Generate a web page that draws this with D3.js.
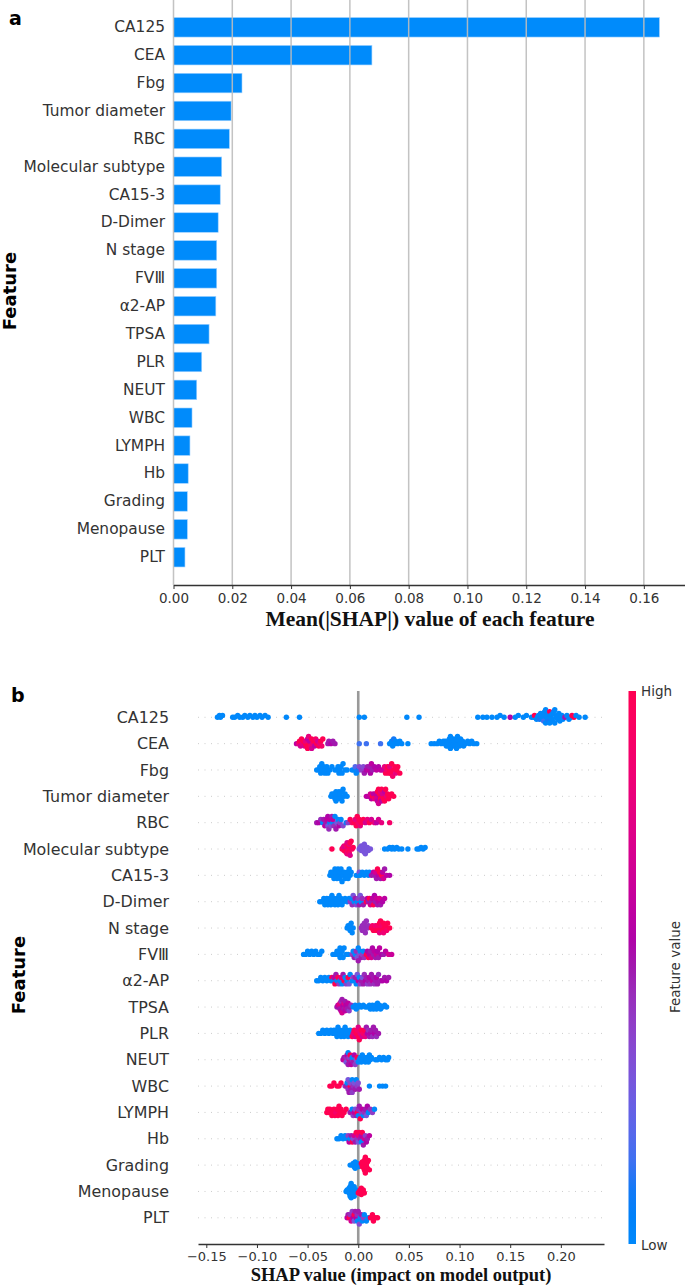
<!DOCTYPE html>
<html><head><meta charset="utf-8">
<script src="https://cdn.jsdelivr.net/npm/d3@7"></script>
<style>body{margin:0;background:#fff}svg{display:block}</style>
</head><body><svg id="c" width="685" height="1285"></svg>
<script>
const features = ["CA125","CEA","Fbg","Tumor diameter","RBC","Molecular subtype","CA15-3","D-Dimer","N stage","FVⅢ","α2-AP","TPSA","PLR","NEUT","WBC","LYMPH","Hb","Grading","Menopause","PLT"];
const meanShap = [0.1653,0.0675,0.0233,0.0196,0.0190,0.0164,0.0159,0.0152,0.0147,0.0147,0.0144,0.0121,0.0096,0.0079,0.0063,0.0056,0.0050,0.0047,0.0047,0.0039];
const ticksTop = [0,0.02,0.04,0.06,0.08,0.10,0.12,0.14,0.16];
const ticksBottom = [-0.15,-0.10,-0.05,0,0.05,0.10,0.15,0.20];

// each point: [SHAP value, normalized feature value (0 = low, 1 = high)]
const shapCA125 = [[-0.139,0],[-0.137,0],[-0.136,0],[-0.134,0],[-0.124,0],[-0.122,0],[-0.119,0],[-0.117,0],[-0.114,0],[-0.112,0],[-0.109,0],[-0.107,0],[-0.104,0],[-0.102,0],[-0.100,0],[-0.097,0],[-0.095,0],[-0.092,0],[-0.089,0],[-0.071,0],[-0.058,0],[0.001,0],[0.006,0],[0.048,0],[0.060,0],[0.118,0],[0.123,0],[0.127,0],[0.132,0],[0.137,0],[0.140,0],[0.144,0],[0.150,0.55],[0.155,0],[0.158,0],[0.163,0],[0.166,0],[0.171,0],[0.173,0],[0.174,1],[0.176,0],[0.177,0],[0.178,0],[0.179,0.1],[0.180,0],[0.181,0],[0.181,0],[0.182,0],[0.183,0],[0.183,0.15],[0.184,0],[0.185,0],[0.185,0],[0.186,0],[0.186,0],[0.187,0],[0.188,0],[0.188,0.1],[0.189,1],[0.189,0],[0.190,0],[0.190,0],[0.191,0],[0.192,0],[0.192,0],[0.193,0],[0.194,0],[0.194,0],[0.195,0],[0.196,0],[0.197,0],[0.198,0],[0.199,0],[0.200,0],[0.201,0],[0.202,0],[0.204,0.5],[0.206,0],[0.208,0],[0.210,0],[0.211,1],[0.213,1],[0.215,0],[0.218,0],[0.224,0]];
const shapCEA = [[-0.061,0.6],[-0.059,0.8],[-0.058,1],[-0.057,0.7],[-0.056,1],[-0.055,0.8],[-0.054,1],[-0.053,0.7],[-0.052,1],[-0.052,0.8],[-0.051,1],[-0.050,0.6],[-0.050,1],[-0.049,0.8],[-0.048,1],[-0.048,0.6],[-0.047,0.9],[-0.046,1],[-0.046,0.7],[-0.045,0.8],[-0.044,1],[-0.043,0.6],[-0.042,0.9],[-0.041,1],[-0.040,0.7],[-0.039,1],[-0.038,0.8],[-0.037,1],[-0.036,0.9],[-0.035,1],[-0.030,0.5],[-0.029,0.5],[-0.027,0.55],[-0.025,0.5],[-0.023,0.5],[0.001,0.15],[0.008,0.15],[0.022,0.15],[0.031,0],[0.032,0],[0.033,0],[0.034,0],[0.035,0.1],[0.036,0],[0.037,0],[0.039,0],[0.041,0],[0.043,0],[0.049,0],[0.072,0],[0.075,0],[0.078,0],[0.080,0],[0.082,0],[0.084,0],[0.085,0],[0.086,0],[0.087,0],[0.088,0],[0.088,0],[0.089,0],[0.090,0],[0.091,0],[0.091,0],[0.092,0],[0.093,0],[0.094,0],[0.094,0],[0.095,0],[0.095,0],[0.096,0],[0.097,0],[0.097,0],[0.098,0],[0.099,0],[0.100,0],[0.100,0],[0.101,0],[0.102,0],[0.103,0],[0.104,0],[0.106,0],[0.108,0],[0.110,0],[0.112,0],[0.114,0],[0.117,0]];
const shapFbg = [[-0.041,0],[-0.039,0],[-0.038,0],[-0.037,0],[-0.036,0],[-0.035,0],[-0.034,0],[-0.033,0],[-0.032,0],[-0.031,0],[-0.030,0],[-0.028,0],[-0.026,0],[-0.023,0],[-0.021,0],[-0.020,0],[-0.019,0],[-0.018,0],[-0.017,0],[-0.016,0],[-0.015,0],[-0.013,0],[-0.011,0],[-0.006,0],[-0.004,0],[-0.003,0.2],[-0.002,0],[0.000,0.1],[0.001,0.35],[0.003,0.4],[0.005,0.35],[0.006,0.5],[0.008,0.55],[0.009,0.5],[0.010,0.6],[0.011,0.5],[0.012,0.55],[0.013,0.6],[0.014,0.5],[0.016,0.55],[0.018,0.6],[0.020,0.55],[0.022,0.6],[0.024,0.65],[0.026,0.8],[0.027,1],[0.028,0.9],[0.029,1],[0.030,1],[0.031,1],[0.031,0.8],[0.032,1],[0.033,1],[0.034,0.9],[0.035,1],[0.036,1],[0.037,0.8],[0.038,1],[0.039,1],[0.041,1]];
const shapTumor = [[-0.027,0],[-0.026,0],[-0.025,0],[-0.024,0],[-0.023,0],[-0.022,0],[-0.022,0],[-0.021,0],[-0.020,0],[-0.020,0],[-0.019,0],[-0.018,0],[-0.018,0],[-0.017,0],[-0.016,0],[-0.016,0],[-0.015,0],[-0.014,0],[-0.013,0],[-0.011,0],[0.008,0.6],[0.010,0.6],[0.012,0.7],[0.013,0.6],[0.014,1],[0.015,0.6],[0.016,0.8],[0.017,1],[0.017,0.6],[0.018,0.7],[0.019,1],[0.019,0.6],[0.020,1],[0.020,0.7],[0.021,0.6],[0.021,1],[0.022,1],[0.022,0.8],[0.023,0.6],[0.023,1],[0.024,1],[0.024,0.7],[0.025,1],[0.026,0.6],[0.026,1],[0.027,1],[0.028,0.8],[0.029,1],[0.030,1],[0.031,1],[0.033,1],[0.035,1]];
const shapRBC = [[-0.041,0.5],[-0.039,0.55],[-0.037,0.45],[-0.035,0],[-0.034,0.5],[-0.033,0.6],[-0.032,0.5],[-0.031,0.6],[-0.030,0.3],[-0.030,0.55],[-0.029,0.45],[-0.028,0],[-0.028,0.6],[-0.027,0.35],[-0.026,0.5],[-0.025,0],[-0.025,0.6],[-0.024,0.45],[-0.023,0],[-0.022,0.5],[-0.021,0.3],[-0.020,0],[-0.019,0.55],[-0.018,0.4],[-0.017,0],[-0.015,0.35],[-0.012,0.1],[-0.010,0.4],[-0.008,1],[-0.006,0.9],[-0.004,1],[-0.003,0.8],[-0.002,1],[-0.001,1],[0.000,0.9],[0.001,1],[0.002,0.8],[0.003,1],[0.005,1],[0.007,0.7],[0.009,0.8],[0.011,1],[0.013,0.7],[0.016,0.8],[0.018,0.6],[0.020,0.7],[0.023,0.8],[0.031,0.9]];
const shapMolecular = [[-0.026,1],[-0.016,1],[-0.015,0.8],[-0.014,1],[-0.014,0.8],[-0.013,1],[-0.013,0.7],[-0.012,1],[-0.012,0.85],[-0.012,1],[-0.011,1],[-0.011,0.8],[-0.011,0.75],[-0.010,1],[-0.010,0.7],[-0.010,0.9],[-0.010,1],[-0.009,1],[-0.009,0.8],[-0.009,0.9],[-0.008,1],[-0.008,0.75],[-0.007,1],[-0.006,0.9],[-0.005,1],[0.001,0.3],[0.002,0.3],[0.003,0.3],[0.003,0.3],[0.004,0.3],[0.004,0.3],[0.005,0.3],[0.005,0.3],[0.006,0.3],[0.006,0.3],[0.007,0.3],[0.008,0.3],[0.009,0.3],[0.010,0.3],[0.012,0.3],[0.026,0],[0.029,0],[0.031,0],[0.033,0],[0.034,0],[0.036,0],[0.038,0],[0.040,0],[0.043,0],[0.049,0],[0.058,0],[0.060,0],[0.062,0],[0.064,0],[0.066,0]];
const shapCA153 = [[-0.028,0],[-0.027,0],[-0.026,0],[-0.025,0],[-0.024,0],[-0.023,0],[-0.022,0],[-0.022,0],[-0.021,0],[-0.020,0],[-0.019,0],[-0.018,0],[-0.018,0],[-0.017,0],[-0.016,0],[-0.015,0],[-0.014,0],[-0.013,0],[-0.012,0],[-0.011,0],[-0.010,0],[-0.009,0],[-0.008,0],[-0.007,0],[-0.002,0],[0.000,0],[0.001,0.3],[0.002,0],[0.004,0],[0.006,0],[0.008,0],[0.010,0],[0.011,0],[0.013,0.5],[0.015,0.6],[0.016,0.5],[0.017,0.7],[0.018,0.5],[0.019,1],[0.020,0.6],[0.021,1],[0.022,0.5],[0.023,1],[0.024,0.6],[0.025,0.7],[0.026,0.5],[0.028,0.6],[0.031,0.55]];
const shapDDimer = [[-0.038,0],[-0.036,0],[-0.034,0],[-0.033,0],[-0.032,0],[-0.031,0],[-0.030,0],[-0.029,0],[-0.028,0],[-0.027,0],[-0.026,0],[-0.025,0],[-0.024,0],[-0.023,0],[-0.022,0],[-0.021,0],[-0.020,0],[-0.019,0],[-0.018,0],[-0.017,0],[-0.016,0],[-0.015,0],[-0.013,0],[-0.011,0],[-0.009,0],[-0.008,0.4],[-0.007,0],[-0.006,0.45],[-0.005,0.3],[-0.004,0],[-0.003,0.5],[-0.002,0.35],[-0.001,0],[0.000,0.4],[0.001,0.5],[0.002,0.3],[0.003,0],[0.004,0.45],[0.005,0.5],[0.008,1],[0.009,0.6],[0.010,0.5],[0.011,1],[0.012,0.7],[0.013,0.5],[0.014,0.6],[0.015,1],[0.016,0.55],[0.017,0.5],[0.018,0.65],[0.019,0.5],[0.020,0.6],[0.021,0.7],[0.022,0.5],[0.024,0.55],[0.026,0.6]];
const shapNStage = [[-0.011,0],[-0.010,0],[-0.009,0],[-0.008,0],[-0.008,0],[-0.007,0],[-0.006,0],[-0.005,0],[0.003,0.45],[0.004,0.45],[0.004,0.45],[0.005,0.45],[0.005,0.45],[0.006,0.45],[0.006,0.45],[0.007,0.45],[0.008,0.45],[0.009,0.45],[0.010,0.45],[0.013,1],[0.014,0.9],[0.015,1],[0.016,1],[0.017,0.85],[0.018,1],[0.019,1],[0.019,0.9],[0.020,1],[0.021,1],[0.021,0.8],[0.022,1],[0.023,1],[0.023,0.9],[0.024,1],[0.025,1],[0.025,0.85],[0.026,1],[0.027,1],[0.028,0.9],[0.029,1],[0.031,1]];
const shapFVIII = [[-0.054,0],[-0.052,0],[-0.050,0],[-0.048,0],[-0.046,0],[-0.044,0],[-0.042,0],[-0.040,0],[-0.038,0],[-0.036,0],[-0.025,0],[-0.023,0],[-0.021,0],[-0.020,0],[-0.019,0],[-0.018,0],[-0.018,0],[-0.017,0],[-0.016,0],[-0.015,0],[-0.014,0],[-0.012,0],[-0.010,0],[-0.006,0.4],[-0.005,0],[-0.004,0.5],[-0.003,0],[-0.002,0.45],[-0.001,0.3],[0.000,0],[0.000,0.5],[0.001,0.35],[0.002,0],[0.003,0.5],[0.004,0.4],[0.005,0],[0.006,0.45],[0.008,1],[0.009,0.55],[0.010,1],[0.011,0.6],[0.012,0.5],[0.013,0.7],[0.014,0.55],[0.015,0.5],[0.016,0.6],[0.017,0.5],[0.018,0.65],[0.019,0.55],[0.020,0.5],[0.021,0.6],[0.023,0.55],[0.025,0.5],[0.027,0.6],[0.030,0.7],[0.033,0.65]];
const shapA2AP = [[-0.041,0],[-0.039,0],[-0.037,0],[-0.035,0],[-0.033,0],[-0.031,0],[-0.029,0],[-0.027,0],[-0.026,1],[-0.025,0],[-0.024,0.6],[-0.023,1],[-0.022,0.5],[-0.021,0],[-0.020,1],[-0.019,0.4],[-0.018,0],[-0.017,0.8],[-0.016,0],[-0.015,0.5],[-0.014,1],[-0.013,0],[-0.012,0.4],[-0.011,0],[-0.010,1],[-0.009,0.3],[-0.008,0],[-0.006,0],[-0.005,0.4],[-0.004,0],[-0.003,0.5],[-0.002,0],[-0.001,0.3],[0.000,0.6],[0.001,0],[0.002,0.4],[0.003,0.5],[0.004,0.3],[0.005,0.5],[0.006,0.45],[0.007,0.55],[0.008,0.5],[0.009,0.4],[0.010,0.5],[0.011,0.55],[0.012,0.45],[0.013,0.5],[0.014,0.6],[0.015,0.5],[0.016,0.45],[0.017,0.5],[0.018,0.55],[0.019,0.5],[0.020,0.45],[0.022,0.5],[0.024,0.55],[0.026,0.5],[0.028,0.55],[0.030,0.5]];
const shapTPSA = [[-0.021,0.5],[-0.020,0.6],[-0.019,0.55],[-0.019,0.7],[-0.018,0.5],[-0.018,0.8],[-0.017,0.6],[-0.017,0.45],[-0.016,0.7],[-0.016,0.5],[-0.015,0.65],[-0.015,0.55],[-0.014,0.5],[-0.014,0.75],[-0.013,0.6],[-0.013,0.5],[-0.012,0.7],[-0.012,0.55],[-0.011,0.5],[-0.010,0.6],[-0.009,0.4],[-0.008,0.5],[-0.007,0.45],[-0.005,0],[-0.003,0],[-0.002,0],[0.000,0],[0.001,0],[0.003,0],[0.005,0],[0.007,0],[0.009,0],[0.011,0],[0.012,0],[0.013,0],[0.014,0],[0.015,0],[0.016,0],[0.017,0],[0.018,0],[0.019,0],[0.020,0],[0.021,0],[0.022,0],[0.024,0],[0.026,0],[0.028,0]];
const shapPLR = [[-0.039,0],[-0.037,0],[-0.035,0],[-0.033,0],[-0.031,0],[-0.029,0],[-0.027,0],[-0.025,0],[-0.024,0],[-0.023,0],[-0.022,0],[-0.021,0],[-0.020,0],[-0.019,0],[-0.018,0],[-0.017,0],[-0.016,0],[-0.015,0],[-0.014,0],[-0.013,0],[-0.012,0],[-0.011,0],[-0.010,0],[-0.009,0],[-0.008,0],[-0.006,1],[-0.005,0.8],[-0.004,1],[-0.003,0.7],[-0.002,1],[-0.001,0.9],[0.000,1],[0.000,0.75],[0.001,1],[0.002,0.8],[0.003,1],[0.004,0.7],[0.005,0.9],[0.006,1],[0.007,0.8],[0.008,0.5],[0.009,0.55],[0.010,0.45],[0.011,0.5],[0.012,0.55],[0.013,0.5],[0.014,0.45],[0.015,0.5],[0.016,0.55],[0.017,0.5],[0.018,0.45],[0.020,0.5]];
const shapNEUT = [[-0.015,0.6],[-0.014,0.5],[-0.013,0.7],[-0.012,0.45],[-0.012,0.3],[-0.011,0.6],[-0.010,0.5],[-0.010,0],[-0.009,0.7],[-0.009,0.4],[-0.008,0.5],[-0.008,1],[-0.007,0.6],[-0.006,0.45],[-0.006,0],[-0.005,0.5],[-0.004,0.55],[-0.003,0.4],[-0.002,0.3],[-0.001,1],[0.000,0],[0.001,0],[0.002,0],[0.003,0],[0.004,0],[0.005,0],[0.006,0],[0.007,0],[0.008,0],[0.009,0],[0.010,0],[0.011,0],[0.012,0],[0.013,0],[0.017,0],[0.019,0],[0.021,0],[0.023,0],[0.025,0],[0.027,0],[0.029,0],[0.030,0]];
const shapWBC = [[-0.028,1],[-0.026,1],[-0.024,1],[-0.021,1],[-0.019,1],[-0.017,1],[-0.013,0.4],[-0.012,0.5],[-0.011,0],[-0.010,0.45],[-0.010,0.3],[-0.009,0.5],[-0.008,1],[-0.008,0.35],[-0.007,0.5],[-0.006,0],[-0.006,0.4],[-0.005,0.45],[-0.004,0.3],[-0.003,0.5],[-0.002,0],[-0.001,0.4],[0.000,0.35],[0.001,0.5],[0.011,0],[0.021,0],[0.024,0],[0.027,0]];
const shapLYMPH = [[-0.031,1],[-0.030,1],[-0.029,1],[-0.028,1],[-0.026,1],[-0.025,1],[-0.024,1],[-0.023,1],[-0.022,0.9],[-0.021,1],[-0.020,1],[-0.019,1],[-0.018,1],[-0.017,1],[-0.016,1],[-0.014,1],[-0.012,1],[-0.008,0.5],[-0.006,0],[-0.005,0.4],[-0.004,0.6],[-0.003,0.3],[-0.002,0.5],[-0.001,1],[0.000,0.45],[0.000,0],[0.001,0.5],[0.002,1],[0.003,0.4],[0.004,0.6],[0.005,0],[0.006,0.45],[0.007,0.5],[0.008,0.3],[0.009,0.55],[0.010,0],[0.012,0.45],[0.014,0.4],[0.016,0]];
const shapHb = [[-0.021,0],[-0.019,0],[-0.017,0],[-0.015,0],[-0.013,0],[-0.011,0],[-0.010,0.4],[-0.009,0.6],[-0.008,0],[-0.007,0.5],[-0.006,1],[-0.005,0.35],[-0.004,0.7],[-0.003,0.5],[-0.002,1],[-0.001,0.45],[0.000,0.8],[0.000,0.3],[0.001,1],[0.002,0.5],[0.003,0.6],[0.003,0],[0.004,1],[0.005,0.5],[0.006,0.7],[0.007,0.4],[0.008,0.55],[0.009,0.5],[0.011,0.6]];
const shapGrading = [[-0.008,0],[-0.006,0],[-0.005,0],[-0.004,0],[-0.003,0],[-0.003,0],[-0.002,0],[-0.001,0],[0.000,0],[0.001,0],[0.003,1],[0.004,1],[0.004,1],[0.005,1],[0.005,1],[0.005,1],[0.006,1],[0.006,1],[0.006,1],[0.006,1],[0.007,1],[0.007,1],[0.007,1],[0.007,1],[0.008,1],[0.008,1],[0.008,1],[0.009,1],[0.009,1],[0.010,1],[0.011,1]];
const shapMenopause = [[-0.012,0],[-0.011,0],[-0.010,0],[-0.010,0],[-0.009,0],[-0.009,0],[-0.008,0],[-0.008,0],[-0.008,0],[-0.007,0],[-0.007,0],[-0.007,0],[-0.006,0],[-0.006,0],[-0.006,0],[-0.005,0],[-0.005,0],[-0.004,0],[-0.004,0],[-0.003,0],[-0.002,0],[0.000,1],[0.001,1],[0.002,1],[0.002,1],[0.003,1],[0.003,1],[0.004,1],[0.005,1],[0.006,1]];
const shapPLT = [[-0.011,0.6],[-0.010,0.5],[-0.009,1],[-0.008,0.45],[-0.007,0.7],[-0.006,0.4],[-0.005,0.55],[-0.004,1],[-0.004,0.3],[-0.003,0.5],[-0.002,0.6],[-0.001,0.45],[-0.001,0],[0.000,0.5],[0.001,0.35],[0.002,0],[0.003,0.5],[0.004,0],[0.005,0.4],[0.006,0],[0.008,0],[0.010,0],[0.012,1],[0.014,1],[0.015,1],[0.017,1],[0.019,1]];
const shapRows = [shapCA125,shapCEA,shapFbg,shapTumor,shapRBC,shapMolecular,shapCA153,shapDDimer,shapNStage,shapFVIII,shapA2AP,shapTPSA,shapPLR,shapNEUT,shapWBC,shapLYMPH,shapHb,shapGrading,shapMenopause,shapPLT];

const svg = d3.select("#c");
const SANS = "'DejaVu Sans', sans-serif";
const SERIF = "'Liberation Serif', 'Times New Roman', serif";

// SHAP red_blue colormap (LCH path, lightness dipping in the middle)
function shapColor(t){
  const l = t < 0.5 ? 54 - 28*t : 40 + 28*(t-0.5);
  const c = 70 + 20*t;
  const h = 266.93 + 113.39*t;
  return d3.hcl(h, c, l).formatHex();
}

// ---------- Panel a ----------
const xa = d3.scaleLinear().domain([0, 0.174]).range([173.5, 685]);
const ya = d3.scaleBand().domain(features).range([13.35, 571.15]).paddingInner(0.3).paddingOuter(0.15);
const ga = svg.append("g");
ga.selectAll("rect.bar").data(features).join("rect")
  .attr("x", xa(0)).attr("y", d => ya(d))
  .attr("width", (d,i) => xa(meanShap[i]) - xa(0)).attr("height", ya.bandwidth())
  .attr("fill", "#008bfb").attr("stroke", "#9fd1ff").attr("stroke-width", 0.6);
ga.selectAll("line.grid").data(ticksTop).join("line")
  .attr("x1", d => xa(d)).attr("x2", d => xa(d)).attr("y1", 0).attr("y2", 585)
  .attr("stroke", "#bdbdbd").attr("stroke-width", 1.5).attr("opacity", 0.9);
const axA = ga.append("g").attr("transform", "translate(0,585)")
  .call(d3.axisBottom(xa).tickValues(ticksTop).tickFormat(d3.format(".2f")).tickSize(4).tickSizeOuter(0));
axA.select(".domain").attr("stroke", "#333").attr("stroke-width", 1.6);
axA.selectAll(".tick line").attr("stroke", "#333");
axA.selectAll(".tick text").attr("font-family", SANS).attr("font-size", 13.5).attr("fill", "#333").attr("dy", "0.85em");
const ayA = ga.append("g").attr("transform", "translate(173.5,0)")
  .call(d3.axisLeft(ya).tickSize(0).tickPadding(8.5));
ayA.select(".domain").remove();
ayA.selectAll(".tick text").attr("font-family", SANS).attr("font-size", 15.4).attr("fill", "#333");
svg.append("text").attr("x", 430).attr("y", 626).attr("text-anchor", "middle")
  .attr("font-family", SERIF).attr("font-weight", "bold").attr("font-size", 21.5).attr("fill", "#111")
  .text("Mean(|SHAP|) value of each feature");
svg.append("text").attr("transform", "translate(16,291) rotate(-90)").attr("text-anchor", "middle")
  .attr("font-family", SANS).attr("font-weight", "bold").attr("font-size", 18).attr("fill", "#000").text("Feature");
svg.append("text").attr("x", 9).attr("y", 25).attr("font-family", SANS).attr("font-weight", "bold")
  .attr("font-size", 19).attr("fill", "#000").text("a");

// ---------- Panel b ----------
const xb = d3.scaleLinear().domain([-0.1582, 0.2426]).range([198, 604]);
const yb = d3.scalePoint().domain(features).range([717.3, 1217.8]);
const rowStep = yb.step();
const gb = svg.append("g");
gb.selectAll("line.row").data(features).join("line")
  .attr("x1", 198).attr("x2", 604).attr("y1", d => yb(d)).attr("y2", d => yb(d))
  .attr("stroke", "#cccccc").attr("stroke-width", 1).attr("stroke-dasharray", "1,5.5");
gb.append("line").attr("x1", xb(0)).attr("x2", xb(0)).attr("y1", 691).attr("y2", 1244)
  .attr("stroke", "#999999").attr("stroke-width", 2.6);

// SHAP-style beeswarm stacking: quantize values, stack alternately up/down, scale to row height
function swarmOffsets(pts){
  const vals = pts.map(p => p[0]);
  const mn = d3.min(vals), mx = d3.max(vals);
  const binW = Math.max((mx - mn)/80, 0.0035);
  const quant = vals.map(v => Math.round((v - mn)/binW));
  const inds = d3.range(pts.length).sort((a,b) => quant[a]-quant[b] || a-b);
  const ys = new Array(pts.length).fill(0);
  let layer = 0, last = -1;
  for (const i of inds){
    if (quant[i] !== last) layer = 0;
    ys[i] = Math.ceil(layer/2) * ((layer % 2)*2 - 1);
    layer++; last = quant[i];
  }
  const m = d3.max(ys, y => y + 1);
  return ys.map(y => y * 0.9 * (0.4 / m));
}
shapRows.forEach((pts, r) => {
  const off = swarmOffsets(pts);
  const cy0 = yb(features[r]);
  gb.append("g").selectAll("circle").data(pts).join("circle")
    .attr("cx", d => xb(d[0])).attr("cy", (d,i) => cy0 - off[i]*rowStep)
    .attr("r", 2.7).attr("fill", d => shapColor(d[1]));
});
const axB = gb.append("g").attr("transform", "translate(0,1244)")
  .call(d3.axisBottom(xb).tickValues(ticksBottom).tickFormat(d3.format(".2f")).tickSize(4).tickSizeOuter(0));
axB.select(".domain").attr("stroke", "#333").attr("stroke-width", 1.6);
axB.selectAll(".tick line").attr("stroke", "#333");
axB.selectAll(".tick text").attr("font-family", SANS).attr("font-size", 13).attr("fill", "#333").attr("dy", "0.75em");
gb.selectAll("text.flab").data(features).join("text")
  .attr("x", 169).attr("y", d => yb(d)).attr("dy", "0.35em").attr("text-anchor", "end")
  .attr("font-family", SANS).attr("font-size", 15.9).attr("fill", "#333").text(d => d);
svg.append("text").attr("x", 401).attr("y", 1281).attr("text-anchor", "middle")
  .attr("font-family", SERIF).attr("font-weight", "bold").attr("font-size", 18.5).attr("fill", "#111")
  .text("SHAP value (impact on model output)");
svg.append("text").attr("transform", "translate(25,975) rotate(-90)").attr("text-anchor", "middle")
  .attr("font-family", SANS).attr("font-weight", "bold").attr("font-size", 18).attr("fill", "#000").text("Feature");
svg.append("text").attr("x", 11).attr("y", 702).attr("font-family", SANS).attr("font-weight", "bold")
  .attr("font-size", 19).attr("fill", "#000").text("b");

// colorbar
const defs = svg.append("defs");
const grad = defs.append("linearGradient").attr("id", "cb").attr("x1", 0).attr("y1", 1).attr("x2", 0).attr("y2", 0);
grad.selectAll("stop").data(d3.range(0, 1.0001, 0.05)).join("stop")
  .attr("offset", d => d).attr("stop-color", d => shapColor(d));
svg.append("rect").attr("x", 628.5).attr("y", 691).attr("width", 7.5).attr("height", 553).attr("fill", "url(#cb)");
svg.append("text").attr("x", 641).attr("y", 696).attr("font-family", SANS).attr("font-size", 13.5).attr("fill", "#333").text("High");
svg.append("text").attr("x", 641).attr("y", 1250).attr("font-family", SANS).attr("font-size", 13.5).attr("fill", "#333").text("Low");
svg.append("text").attr("transform", "translate(680,967) rotate(-90)").attr("text-anchor", "middle")
  .attr("font-family", SANS).attr("font-size", 13.5).attr("fill", "#333").text("Feature value");
</script></body></html>
